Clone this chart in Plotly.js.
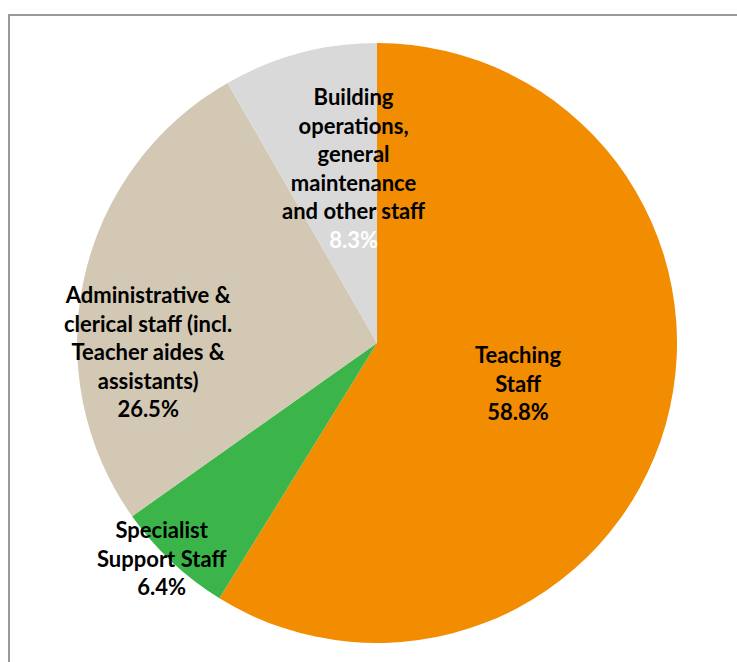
<!DOCTYPE html>
<html>
<head>
<meta charset="utf-8">
<script src="https://cdn.plot.ly/plotly-3.0.1.min.js"></script>
<style>html,body{margin:0;padding:0;background:#fff;}#chart{width:737px;height:662px;}</style>
</head>
<body>
<div id="chart"></div>
<script>
// ---- data ----
const categories = ["Teaching\nStaff", "Specialist\nSupport Staff", "Administrative &\nclerical staff (incl.\nTeacher aides &\nassistants)", "Building\noperations,\ngeneral\nmaintenance\nand other staff"];
const shares = [58.8, 6.4, 26.5, 8.3];
const sliceColors = ["#F28C00", "#3BB54A", "#D3C8B4", "#D9D9D9"];
const valueColors = ["#000000", "#000000", "#000000", "#FFFFFF"];

// ---- layout geometry (pixels) ----
const W = 737, H = 662;
const cx = 377, cy = 343, R = 300;
// label placement: radius fraction from centre, plus small nudges
const labelFrac = [0.49, 1.0, 0.78, 0.59];
const labelShift = [[0, 0], [-10, -4], [0, 59], [22, -4]];

const total = shares.reduce((a, b) => a + b, 0);
let cum = 0;
const annotations = shares.map((v, i) => {
  const mid = (cum + v / 2) / total * 2 * Math.PI;
  cum += v;
  const px = cx + labelFrac[i] * R * Math.sin(mid) + labelShift[i][0];
  const py = cy - labelFrac[i] * R * Math.cos(mid) + labelShift[i][1];
  const name = categories[i].split("\n").join("<br>");
  const pct = v.toFixed(1) + "%";
  return {
    xref: "paper", yref: "paper",
    x: px / W, y: 1 - py / H,
    xanchor: "center", yanchor: "middle",
    showarrow: false, align: "center",
    text: "<b>" + name + "<br><span style='color:" + valueColors[i] + "'>" + pct + "</span></b>",
    font: {family: "Lato, 'Open Sans', sans-serif", size: 22, color: "#000"}
  };
});

const data = [{
  type: "pie",
  labels: categories.map(c => c.replace(/\n/g, " ")),
  values: shares,
  sort: false,
  direction: "clockwise",
  rotation: 0,
  marker: {colors: sliceColors, line: {width: 0}},
  textinfo: "none",
  hoverinfo: "none",
  showlegend: false,
  domain: {x: [(cx - R) / W, (cx + R) / W], y: [1 - (cy + R) / H, 1 - (cy - R) / H]}
}];

const layout = {
  width: W, height: H,
  margin: {l: 0, r: 0, t: 0, b: 0},
  paper_bgcolor: "#fff",
  showlegend: false,
  annotations: annotations,
  shapes: [{
    type: "rect", xref: "paper", yref: "paper",
    x0: 9 / W, x1: 1.1, y0: -0.1, y1: 1 - 15 / H,
    line: {color: "#999999", width: 2}, fillcolor: "rgba(0,0,0,0)", layer: "below"
  }]
};

Plotly.newPlot("chart", data, layout, {displayModeBar: false, staticPlot: true});
</script>
</body>
</html>
